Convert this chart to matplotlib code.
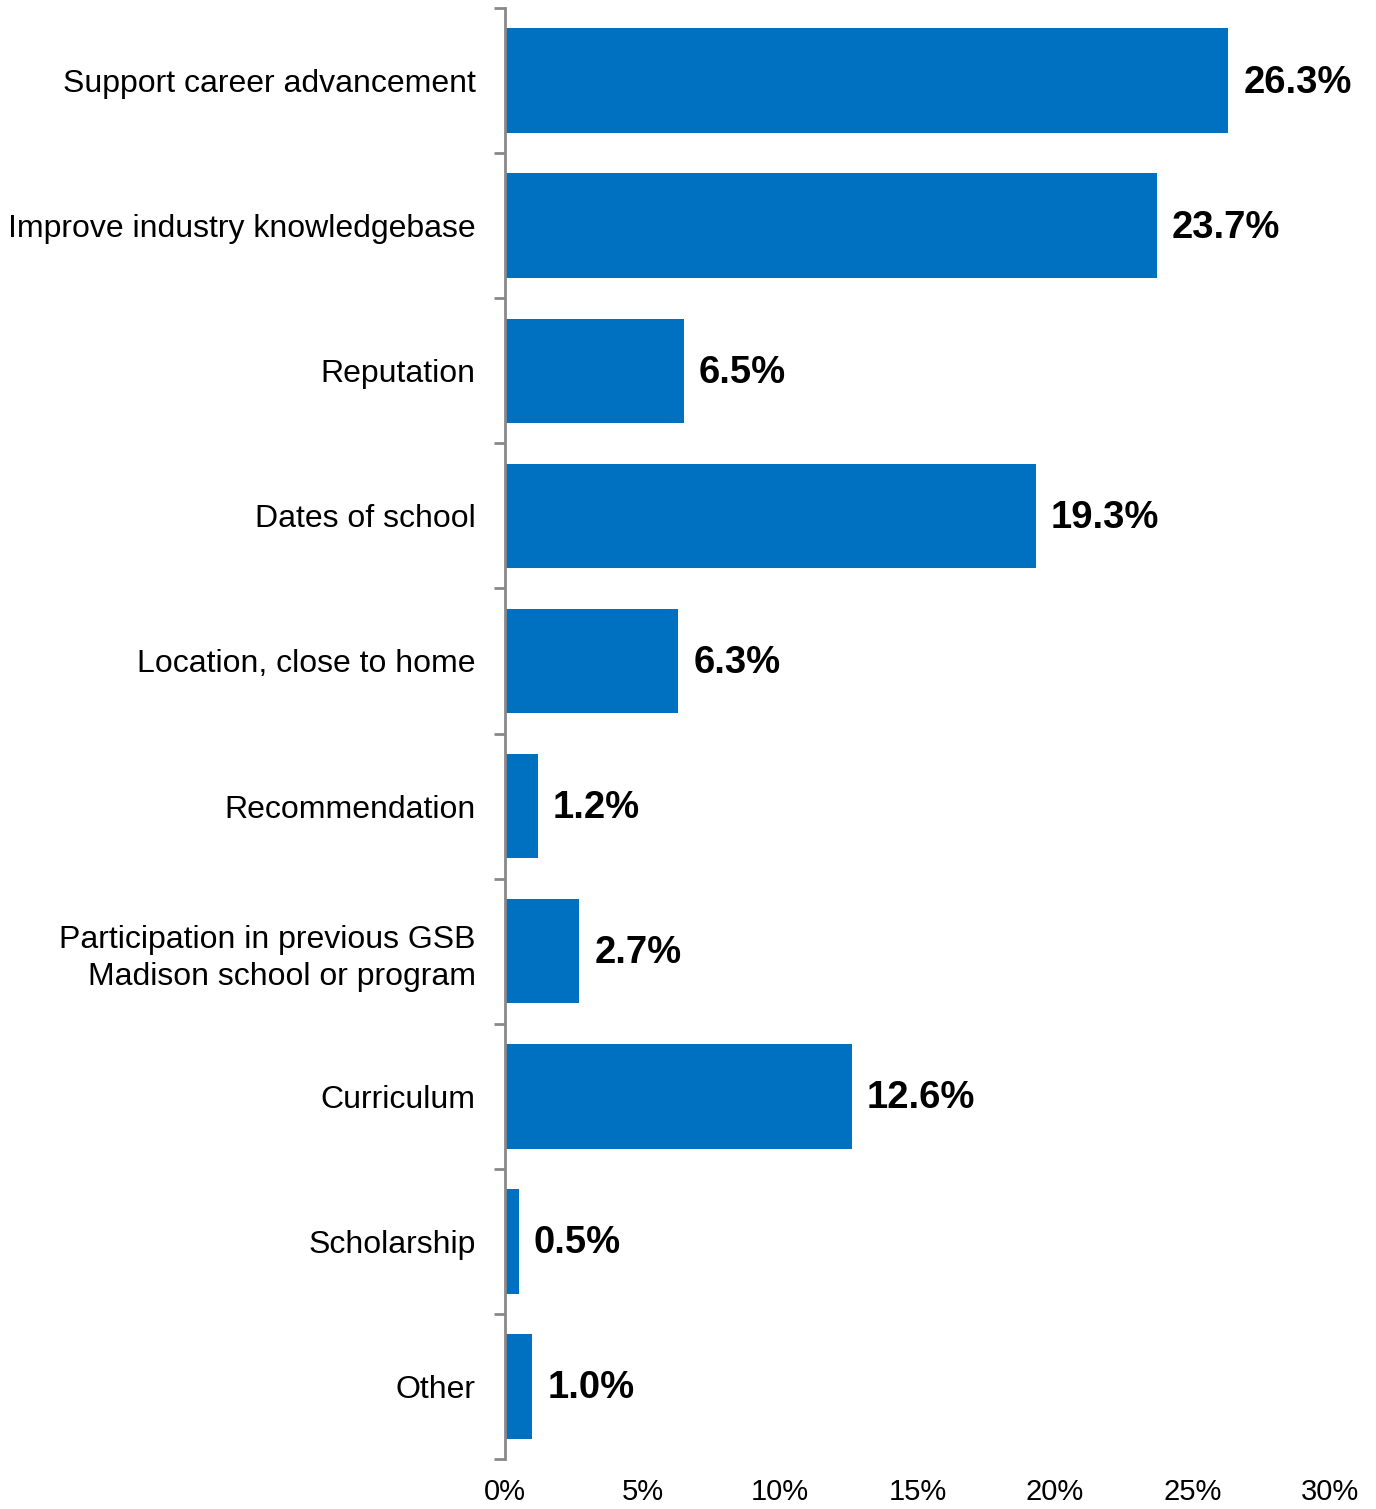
import matplotlib.pyplot as plt
from matplotlib.ticker import FuncFormatter

categories = [
    "Support career advancement",
    "Improve industry knowledgebase",
    "Reputation",
    "Dates of school",
    "Location, close to home",
    "Recommendation",
    "Participation in previous GSB\nMadison school or program",
    "Curriculum",
    "Scholarship",
    "Other",
]
values = [26.3, 23.7, 6.5, 19.3, 6.3, 1.2, 2.7, 12.6, 0.5, 1.0]
xticks = [0, 5, 10, 15, 20, 25, 30]

plt.rcParams['font.family'] = ['Liberation Sans', 'DejaVu Sans']

fig = plt.figure(figsize=(13.76, 15.09), dpi=100)
ax = fig.add_axes([0.367, 0.0331, 0.5996, 0.9616])

n = len(categories)
ypos = list(range(n))
ax.barh(ypos, values, height=0.72, color='#0070C0')

for y, v in zip(ypos, values):
    ax.annotate(f"{v:.1f}%", (v, y), xytext=(15, -2), textcoords='offset pixels',
                va='center', ha='left', fontsize=27.5, fontweight='bold')

ax.set_ylim(n - 0.5, -0.5)
ax.set_xlim(0, 30)

ax.set_yticks(ypos)
ax.set_yticklabels(categories, fontsize=23, linespacing=1.3)
ax.set_yticks([i - 0.5 for i in range(n + 1)], minor=True)
ax.tick_params(axis='y', which='major', length=0, pad=21)
ax.tick_params(axis='y', which='minor', length=8, width=2, color='#898989')
for lbl in ax.get_yticklabels():
    lbl.set_horizontalalignment('right')

ax.set_xticks(xticks)
ax.xaxis.set_major_formatter(FuncFormatter(lambda x, p: f"{x:.0f}%"))
ax.tick_params(axis='x', length=0, labelsize=21, pad=14)

for side in ['top', 'right', 'bottom']:
    ax.spines[side].set_visible(False)
ax.spines['left'].set_color('#898989')
ax.spines['left'].set_linewidth(2)

fig.savefig('out.png', dpi=100)
